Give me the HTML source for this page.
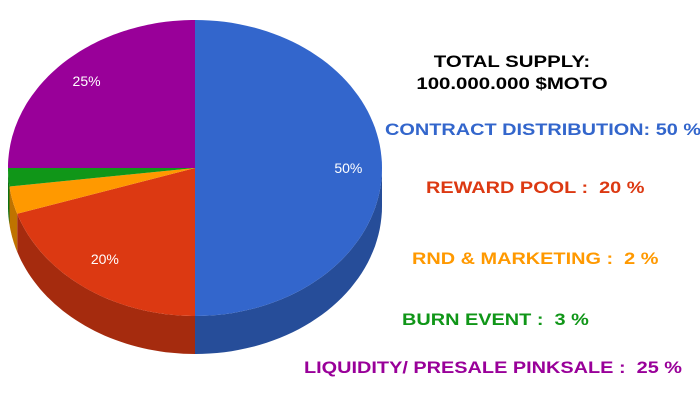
<!DOCTYPE html>
<html><head><meta charset="utf-8"><style>
body{margin:0;background:#fff;width:700px;height:400px;overflow:hidden;font-family:"Liberation Sans",sans-serif}
svg{position:absolute;left:0;top:0}
.t{position:absolute;font-weight:bold;font-size:17px;white-space:nowrap;transform:scaleX(1.17);transform-origin:0 0}
</style></head><body>
<svg id="c" width="700" height="400"></svg>
<div class="t" style="left:404px;width:180px;top:51px;color:#000;text-align:center;line-height:22px;transform:scaleX(1.2);transform-origin:0 0">TOTAL SUPPLY:<br>100.000.000 $MOTO</div>
<div class="t" style="left:385px;top:120px;color:#3366cc">CONTRACT DISTRIBUTION: 50 %</div>
<div class="t" style="left:426px;top:178px;color:#dc3912">REWARD POOL :&nbsp; 20 %</div>
<div class="t" style="left:412px;top:249px;color:#ff9900">RND &amp; MARKETING :&nbsp; 2 %</div>
<div class="t" style="left:402px;top:310px;color:#109618">BURN EVENT :&nbsp; 3 %</div>
<div class="t" style="left:304px;top:358px;color:#990099">LIQUIDITY/ PRESALE PINKSALE :&nbsp; 25 %</div>
<script>
const categories=["Contract Distribution","Reward Pool","RND & Marketing","Burn Event","Liquidity/Presale"];
const values=[50,20,3,2,25];
const labels=["50%","20%","","","25%"];
const colors=["#3366cc","#dc3912","#ff9900","#109618","#990099"];
const sideColors=["#264d99","#a52b0e","#bf7300","#0c7112","#730073"];
const cx=195,cy=168,rx=187,ry=148,depth=38;
const svg=document.getElementById('c');
const NS="http://www.w3.org/2000/svg";
function pt(a,dy){return [cx+rx*Math.sin(a),cy-ry*Math.cos(a)+(dy||0)];}
const total=values.reduce((a,b)=>a+b,0);
let start=0;const slices=[];
values.forEach((v,i)=>{const a0=start/total*2*Math.PI;start+=v;const a1=start/total*2*Math.PI;slices.push([a0,a1]);});
slices.forEach(([a0,a1],i)=>{
  const s=Math.max(a0,Math.PI/2),e=Math.min(a1,3*Math.PI/2);
  if(e<=s)return;
  let d="";const N=40;
  for(let k=0;k<=N;k++){const p=pt(s+(e-s)*k/N);d+=(k?"L":"M")+p[0].toFixed(1)+" "+p[1].toFixed(1);}
  for(let k=N;k>=0;k--){const p=pt(s+(e-s)*k/N,depth);d+="L"+p[0].toFixed(1)+" "+p[1].toFixed(1);}
  const p=document.createElementNS(NS,'path');
  p.setAttribute('d',d+"Z");p.setAttribute('fill',sideColors[i]);
  
  
  svg.appendChild(p);
});
slices.forEach(([a0,a1],i)=>{
  let d="M"+cx+" "+cy;const N=80;
  for(let k=0;k<=N;k++){const p=pt(a0+(a1-a0)*k/N);d+="L"+p[0].toFixed(1)+" "+p[1].toFixed(1);}
  const p=document.createElementNS(NS,'path');
  p.setAttribute('d',d+"Z");p.setAttribute('fill',colors[i]);
  
  
  svg.appendChild(p);
});
slices.forEach(([a0,a1],i)=>{
  if(!labels[i])return;
  const m=(a0+a1)/2;const c=Math.cos(m);
  const lx=cx+rx*0.82*Math.sin(m);
  const ly=cy-ry*(c>0?0.83:0.76)*c;
  const t=document.createElementNS(NS,'text');
  t.setAttribute('x',lx);t.setAttribute('y',ly+5);t.setAttribute('fill','#fff');
  t.setAttribute('font-size','14');t.setAttribute('text-anchor','middle');
  t.setAttribute('font-family','Liberation Sans, sans-serif');
  t.textContent=labels[i];
  
  
  svg.appendChild(t);
});
</script>
</body></html>
